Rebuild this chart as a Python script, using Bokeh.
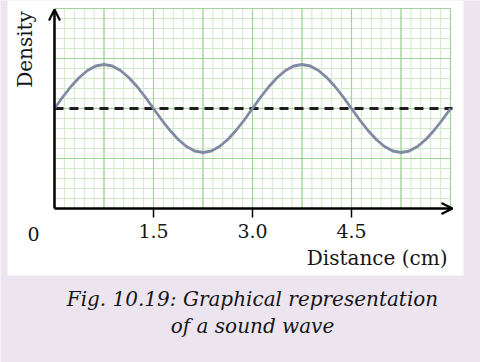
import numpy as np
from bokeh.plotting import figure
from bokeh.models import (Range1d, LinearAxis, FixedTicker, PrintfTickFormatter,
                          Label, Arrow, OpenHead, BoxAnnotation)
from bokeh.embed import file_html
from bokeh.resources import INLINE

# ---- data ----
distance_cm = [0.0, 0.125, 0.25, 0.375, 0.5, 0.625, 0.75, 0.875, 1.0, 1.125, 1.25, 1.375,
               1.5, 1.625, 1.75, 1.875, 2.0, 2.125, 2.25, 2.375, 2.5, 2.625, 2.75, 2.875,
               3.0, 3.125, 3.25, 3.375, 3.5, 3.625, 3.75, 3.875, 4.0, 4.125, 4.25, 4.375,
               4.5, 4.625, 4.75, 4.875, 5.0, 5.125, 5.25, 5.375, 5.5, 5.625, 5.75, 5.875, 6.0]
density = [2.00, 2.23, 2.44, 2.62, 2.76, 2.85, 2.88, 2.85, 2.76, 2.62, 2.44, 2.23,
           2.00, 1.77, 1.56, 1.38, 1.24, 1.15, 1.12, 1.15, 1.24, 1.38, 1.56, 1.77,
           2.00, 2.23, 2.44, 2.62, 2.76, 2.85, 2.88, 2.85, 2.76, 2.62, 2.44, 2.23,
           2.00, 1.77, 1.56, 1.38, 1.24, 1.15, 1.12, 1.15, 1.24, 1.38, 1.56, 1.77, 2.00]
mean_density = 2.0
tick_values = [1.5, 3.0, 4.5]
x_label = "Distance (cm)"
y_label = "Density"
origin_label = "0"
caption_lines = ["Fig. 10.19: Graphical representation", "of a sound wave"]

# ---- layout ----
X_MAX, Y_MAX = 6.0, 4.0
LAVENDER = "#ece5ef"
TEXT = "#161616"
SERIF = "DejaVu Serif"

p = figure(width=480, height=362, output_backend="svg", toolbar_location=None,
           x_axis_type=None, y_axis_type=None,
           x_range=Range1d(-0.818, 6.4545), y_range=Range1d(-3.08, 4.16),
           min_border_left=0, min_border_right=0, min_border_top=0, min_border_bottom=0)
p.background_fill_color = LAVENDER
p.border_fill_color = LAVENDER
p.outline_line_color = None

# white page card
p.add_layout(BoxAnnotation(left=-0.712, right=6.197, bottom=-1.34, fill_color="white",
                           fill_alpha=1.0, line_color=None, level="underlay"))

# graph-paper grid
gx_minor = np.arange(0, X_MAX + 1e-6, 0.15)
gy_minor = np.arange(0, Y_MAX + 1e-6, 0.2)
gx_major = np.arange(0, X_MAX + 1e-6, 0.75)
gy_major = np.arange(0, Y_MAX + 1e-6, 1.0)
p.segment(x0=gx_minor, y0=0, x1=gx_minor, y1=Y_MAX, line_color="#d0e9c8", line_width=1)
p.segment(x0=0, y0=gy_minor, x1=X_MAX, y1=gy_minor, line_color="#d0e9c8", line_width=1)
p.segment(x0=gx_major, y0=0, x1=gx_major, y1=Y_MAX, line_color="#a2d39a", line_width=1.2)
p.segment(x0=0, y0=gy_major, x1=X_MAX, y1=gy_major, line_color="#a2d39a", line_width=1.2)

# mean level (dashed) and the wave
p.line(x=[distance_cm[0], distance_cm[-1] + 0.03], y=[mean_density, mean_density],
       line_color="#1e1e1e", line_width=3, line_dash="9 6")
p.line(x=distance_cm, y=density, line_color="#8189a3", line_width=2.8, line_join="round")

# axes with arrows
p.add_layout(Arrow(end=OpenHead(size=11, line_width=2.2, line_color="black"),
                   x_start=0, y_start=0, x_end=X_MAX + 0.03, y_end=0,
                   line_width=2.5, line_color="black"))
p.add_layout(Arrow(end=OpenHead(size=11, line_width=2.2, line_color="black"),
                   x_start=0, y_start=0, x_end=0, y_end=Y_MAX - 0.02,
                   line_width=2.5, line_color="black"))

xaxis = LinearAxis(fixed_location=0, ticker=FixedTicker(ticks=tick_values),
                   formatter=PrintfTickFormatter(format="%.1f"))
xaxis.axis_line_color = None
xaxis.major_tick_in = 0
xaxis.major_tick_out = 9
xaxis.major_tick_line_width = 1.5
xaxis.major_tick_line_color = "black"
xaxis.minor_tick_line_color = None
xaxis.major_label_standoff = 6
xaxis.major_label_text_font = SERIF
xaxis.major_label_text_font_size = "19px"
xaxis.major_label_text_color = TEXT
p.add_layout(xaxis, "below")

# texts
p.add_layout(Label(x=-0.318, y=-0.50, text=origin_label, text_font=SERIF,
                   text_font_size="19px", text_color=TEXT,
                   text_align="center", text_baseline="middle"))
p.add_layout(Label(x=5.955, y=-0.98, text=x_label, text_font=SERIF,
                   text_font_size="20px", text_color=TEXT,
                   text_align="right", text_baseline="middle"))
p.add_layout(Label(x=-0.44, y=3.18, text=y_label, angle=np.pi / 2, text_font=SERIF,
                   text_font_size="20px", text_color=TEXT,
                   text_align="center", text_baseline="middle"))
for yy, line in zip([-1.8, -2.34], caption_lines):
    p.add_layout(Label(x=3.0, y=yy, text=line, text_font=SERIF, text_font_style="italic",
                       text_font_size="20px", text_color=TEXT,
                       text_align="center", text_baseline="middle"))

open("out.html", "w").write(file_html(p, INLINE))
